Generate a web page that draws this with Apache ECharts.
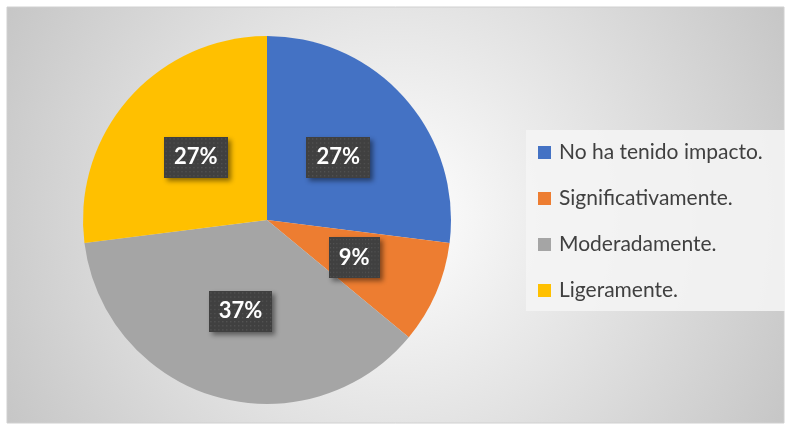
<!DOCTYPE html>
<html>
<head>
<meta charset="utf-8">
<script src="https://cdn.jsdelivr.net/npm/echarts@6/dist/echarts.min.js"></script>
<style>
    html, body { margin: 0; padding: 0; background: #fff; }
    #chart-container { width: 790px; height: 429px; }
</style>
</head>
<body>
<div id="chart-container"></div>
<script>
// 資料
const categories = ['No ha tenido impacto.', 'Significativamente.', 'Moderadamente.', 'Ligeramente.'];
const values = [27, 9, 37, 27];
const colors = ['#4472c4', '#ed7d31', '#a5a5a5', '#ffc000'];

// 標籤背景的點狀紋理
const makePattern = () => {
    const c = document.createElement('canvas');
    c.width = 80;
    c.height = 50;
    const ctx = c.getContext('2d');
    ctx.fillStyle = '#404040';
    ctx.fillRect(0, 0, c.width, c.height);
    ctx.fillStyle = '#555555';
    for (let y = 2; y < c.height; y += 5) {
        for (let x = 2; x < c.width; x += 5) {
            ctx.fillRect(x, y, 1.5, 1.5);
        }
    }
    return c;
};

const chart = echarts.init(document.getElementById('chart-container'));

const total = values.reduce((a, b) => a + b, 0);

const option = {
    animation: false,
    color: colors,
    graphic: [
        {
            type: 'rect',
            shape: { x: 7, y: 7, width: 777, height: 416 },
            style: {
                fill: {
                    type: 'radial', x: 0.5, y: 0.5, r: 1.06,
                    colorStops: [
                        { offset: 0, color: '#ffffff' },
                        { offset: 1, color: '#c6c6c6' }
                    ]
                },
                stroke: '#d0d0d0',
                lineWidth: 1
            },
            z: -10
        },
        {
            type: 'rect',
            shape: { x: 526, y: 130, width: 259, height: 181 },
            style: { fill: 'rgba(244,244,244,0.9)' },
            z: -5
        }
    ],
    legend: {
        orient: 'vertical',
        left: 526,
        top: 130,
        padding: [12, 0, 0, 12],
        icon: 'rect',
        itemWidth: 13,
        itemHeight: 13,
        itemGap: 25,
        data: categories,
        textStyle: {
            fontFamily: 'Lato',
            fontSize: 21,
            lineHeight: 20,
            color: '#404040',
            padding: [0, 0, 0, 3]
        }
    },
    series: [
        {
            type: 'pie',
            center: [267, 220],
            radius: 184,
            startAngle: 90,
            clockwise: true,
            label: {
                position: 'inside',
                formatter: (p) => Math.round(p.value / total * 100) + '%',
                fontFamily: 'Lato',
                fontWeight: 'bold',
                fontSize: 22,
                color: '#ffffff',
                backgroundColor: { image: makePattern() },
                padding: [10, 10, 9, 10],
                shadowColor: 'rgba(0,0,0,0.45)',
                shadowBlur: 5,
                shadowOffsetX: 3,
                shadowOffsetY: 3
            },
            labelLine: { show: false },
            emphasis: { disabled: true },
            data: categories.map((name, i) => ({ name: name, value: values[i] }))
        }
    ]
};

chart.setOption(option);
</script>
</body>
</html>
